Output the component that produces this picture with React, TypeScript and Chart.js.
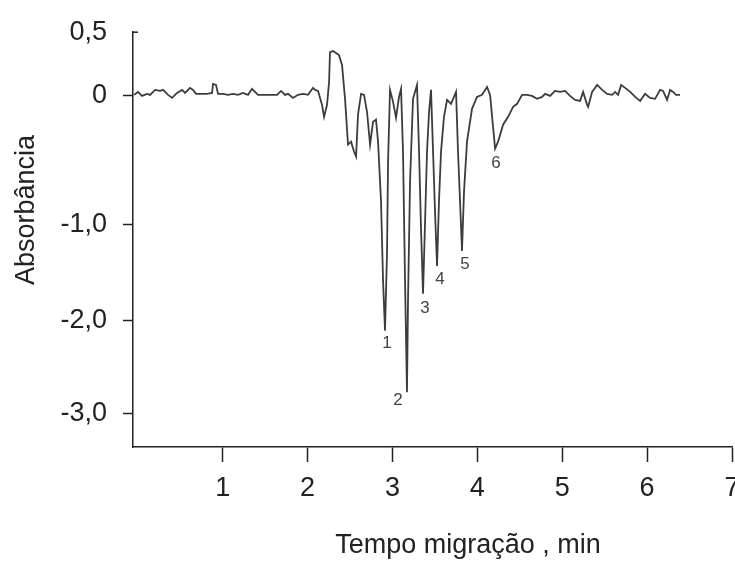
import React, { useEffect, useRef } from "react";
import { Chart, registerables, LinearScale } from "chart.js";

Chart.register(...registerables);

// ---------- data ----------
const TIME_MIN = [
  -0.045, 0.002, 0.049, 0.108, 0.144, 0.203, 0.262, 0.297, 0.356, 0.403,
  0.462, 0.521, 0.556, 0.615, 0.65, 0.686, 0.733, 0.815, 0.874, 0.886,
  0.921, 0.945, 1.004, 1.063, 1.122, 1.18, 1.239, 1.298, 1.345, 1.381,
  1.416, 1.475, 1.64, 1.687, 1.734, 1.77, 1.828, 1.887, 1.946, 2.005,
  2.064, 2.088, 2.123, 2.17, 2.194, 2.229, 2.253, 2.264, 2.3, 2.37,
  2.406, 2.441, 2.476, 2.512, 2.547, 2.571, 2.594, 2.63, 2.665, 2.7,
  2.736, 2.771, 2.806, 2.83, 2.865, 2.889, 2.912, 2.936, 2.948, 2.971,
  3.007, 3.042, 3.077, 3.101, 3.124, 3.148, 3.171, 3.183, 3.207, 3.242,
  3.289, 3.313, 3.337, 3.36, 3.384, 3.407, 3.431, 3.454, 3.478, 3.501,
  3.525, 3.548, 3.572, 3.607, 3.643, 3.69, 3.749, 3.772, 3.796, 3.819,
  3.843, 3.878, 3.937, 3.996, 4.055, 4.114, 4.15, 4.209, 4.244, 4.303,
  4.362, 4.421, 4.468, 4.527, 4.586, 4.644, 4.703, 4.762, 4.798, 4.857,
  4.915, 4.974, 5.033, 5.092, 5.151, 5.21, 5.246, 5.293, 5.305, 5.352,
  5.411, 5.47, 5.529, 5.588, 5.623, 5.658, 5.694, 5.741, 5.8, 5.859,
  5.918, 5.976, 6.035, 6.094, 6.153, 6.188, 6.235, 6.271, 6.306, 6.341,
  6.388,
];

const ABSORBANCE = [
  0.008, 0.031, 0.0, 0.016, 0.008, 0.047, 0.039, 0.047, 0.008, -0.016,
  0.023, 0.047, 0.023, 0.063, 0.047, 0.016, 0.016, 0.016, 0.023, 0.094,
  0.086, 0.016, 0.016, 0.008, 0.016, 0.008, 0.023, 0.008, 0.055, 0.031,
  0.008, 0.008, 0.008, 0.039, 0.008, 0.016, -0.016, 0.008, 0.016, 0.008,
  0.063, 0.047, 0.039, -0.07, -0.163, -0.07, 0.109, 0.344, 0.352, 0.32,
  0.242, -0.023, -0.38, -0.357, -0.434, -0.473, -0.147, 0.016, 0.008, -0.124,
  -0.38, -0.202, -0.186, -0.357, -0.822, -1.588, -2.108, -1.278, -0.512, 0.047,
  -0.047, -0.171, -0.008, 0.055, -0.434, -1.588, -2.774, -1.794, -0.667, -0.023,
  0.086, -0.434, -1.072, -1.722, -0.977, -0.434, -0.124, 0.047, -0.434, -0.899,
  -1.433, -0.822, -0.434, -0.163, -0.031, -0.062, 0.031, -0.434, -0.822, -1.278,
  -0.744, -0.357, -0.101, -0.008, 0.008, 0.07, 0.008, -0.411, -0.357, -0.225,
  -0.163, -0.085, -0.062, 0.008, 0.008, 0.0, -0.023, -0.008, 0.016, 0.0,
  0.039, 0.031, 0.039, 0.0, -0.031, -0.039, 0.031, -0.07, -0.085, 0.031,
  0.086, 0.047, 0.016, 0.008, 0.031, 0.008, 0.086, 0.063, 0.031, -0.008,
  -0.039, 0.016, -0.016, -0.023, 0.047, 0.039, -0.031, 0.047, 0.031, 0.008,
  0.008,
];

const PEAK_IDS = ["1", "2", "3", "4", "5", "6"];
const PEAK_LABEL_TIME = [2.936, 3.066, 3.384, 3.56, 3.855, 4.22];
const PEAK_LABEL_ABS = [-2.247, -2.86, -1.876, -1.567, -1.412, -0.527];

const X_TICKS = [1, 2, 3, 4, 5, 6, 7];
const X_TICK_LABELS = ["1", "2", "3", "4", "5", "6", "7"];
const Y_TICKS = [0.5, 0, -1, -2, -3];
const Y_TICK_LABELS = ["0,5", "0", "-1,0", "-2,0", "-3,0"];

const X_TITLE = "Tempo migração , min";
const Y_TITLE = "Absorbância";

// axis shape of the original figure (uneven spacing between labelled values)
const Y_KNOT_VALUES = [-3.366, -3, -2, -1, 0, 0.5];
const Y_KNOT_FRACTIONS = [0, 0.0815, 0.3046, 0.5372, 0.8465, 1];

function interp(v: number, from: number[], to: number[]): number {
  const n = from.length - 1;
  let i = 1;
  if (v <= from[0]) i = 1;
  else if (v >= from[n]) i = n;
  else {
    while (i < n && v > from[i]) i++;
  }
  const a = from[i - 1], b = from[i];
  return to[i - 1] + ((v - a) * (to[i] - to[i - 1])) / (b - a);
}

class SegmentedScale extends LinearScale {
  static id = "segmented";
  static defaults = LinearScale.defaults;
  getPixelForValue(value: number) {
    return this.getPixelForDecimal(interp(value, Y_KNOT_VALUES, Y_KNOT_FRACTIONS));
  }
  getValueForPixel(pixel: number) {
    return interp(this.getDecimalForPixel(pixel), Y_KNOT_FRACTIONS, Y_KNOT_VALUES);
  }
}
Chart.register(SegmentedScale as any);

const FONT = '"Liberation Sans", Arial, sans-serif';
const INK = "#222";

const labelsPlugin = {
  id: "figureLabels",
  afterDraw(chart: any) {
    const { ctx } = chart;
    const xs = chart.scales.x;
    const ys = chart.scales.y;
    ctx.save();
    ctx.fillStyle = "#444";
    ctx.font = `17px ${FONT}`;
    ctx.textAlign = "center";
    ctx.textBaseline = "middle";
    PEAK_IDS.forEach((id, i) => {
      ctx.fillText(id, xs.getPixelForValue(PEAK_LABEL_TIME[i]), ys.getPixelForValue(PEAK_LABEL_ABS[i]));
    });
    // small stub at the top of the y axis, as in the original
    ctx.strokeStyle = INK;
    ctx.lineWidth = 1.5;
    const yTop = ys.getPixelForValue(0.5);
    ctx.beginPath();
    ctx.moveTo(chart.chartArea.left, yTop);
    ctx.lineTo(chart.chartArea.left + 5, yTop);
    ctx.stroke();

    ctx.fillStyle = INK;
    ctx.font = `27px ${FONT}`;
    ctx.textBaseline = "alphabetic";
    ctx.fillText(X_TITLE, 468, 553);
    ctx.translate(34, 210);
    ctx.rotate(-Math.PI / 2);
    ctx.fillText(Y_TITLE, 0, 0);
    ctx.restore();
  },
};

export default function App() {
  const canvasRef = useRef<HTMLCanvasElement | null>(null);

  useEffect(() => {
    if (!canvasRef.current) return;
    const points = TIME_MIN.map((t, i) => ({ x: t, y: ABSORBANCE[i] }));
    const chart = new Chart(canvasRef.current, {
      type: "line",
      data: {
        datasets: [
          {
            data: points,
            borderColor: "#3c3c3c",
            borderWidth: 1.8,
            pointRadius: 0,
            tension: 0,
            fill: false,
          },
        ],
      },
      options: {
        animation: false,
        responsive: false,
        maintainAspectRatio: false,
        layout: { padding: { left: 0, right: 3, top: 30, bottom: 0 } },
        plugins: {
          legend: { display: false },
          tooltip: { enabled: false },
          title: { display: false },
        },
        scales: {
          x: {
            type: "linear",
            min: -0.057,
            max: 7,
            afterBuildTicks: (s: any) => {
              s.ticks = X_TICKS.map((v) => ({ value: v }));
            },
            afterFit: (s: any) => {
              s.height = 115;
              s.paddingLeft = 0;
              s.paddingRight = 0;
            },
            ticks: {
              callback: (_v: any, i: number) => X_TICK_LABELS[i],
              font: { family: FONT, size: 27 },
              color: INK,
              padding: 10,
              maxRotation: 0,
              autoSkip: false,
            },
            grid: {
              display: true,
              drawOnChartArea: false,
              drawTicks: true,
              tickLength: 15,
              tickColor: INK,
              tickWidth: 1.5,
            },
            border: { display: true, color: INK, width: 1.5 },
          },
          y: {
            type: "segmented" as any,
            min: -3.366,
            max: 0.5,
            afterBuildTicks: (s: any) => {
              s.ticks = Y_TICKS.map((v) => ({ value: v }));
            },
            afterFit: (s: any) => {
              s.width = 133;
            },
            ticks: {
              callback: (_v: any, i: number) => Y_TICK_LABELS[i],
              font: { family: FONT, size: 27 },
              color: INK,
              padding: 16,
              autoSkip: false,
            },
            grid: {
              display: true,
              drawOnChartArea: false,
              drawTicks: true,
              tickLength: 10,
              tickColor: (c: any) => (c.index === 0 ? "rgba(0,0,0,0)" : INK),
              tickWidth: 1.5,
            },
            border: { display: true, color: INK, width: 1.5 },
          },
        },
      } as any,
      plugins: [labelsPlugin],
    });
    return () => chart.destroy();
  }, []);

  return (
    <div style={{ position: "fixed", left: 0, top: 0, width: 735, height: 562, background: "#fff" }}>
      <canvas ref={canvasRef} width={735} height={562} style={{ display: "block" }} />
    </div>
  );
}
